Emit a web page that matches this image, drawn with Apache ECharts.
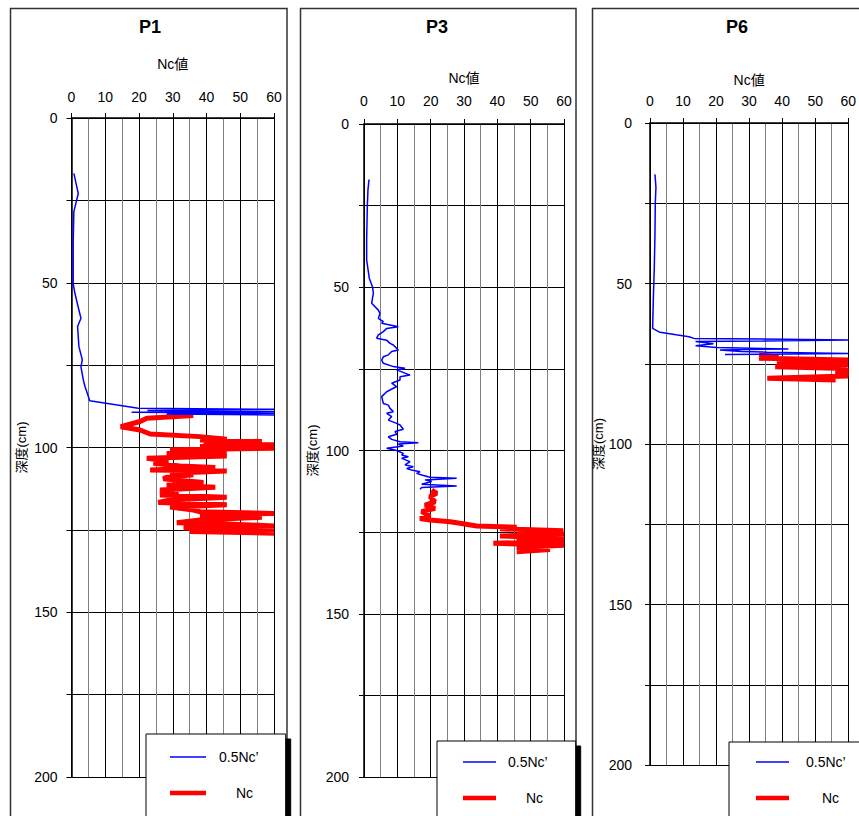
<!DOCTYPE html>
<html>
<head>
<meta charset="utf-8">
<script src="https://cdn.jsdelivr.net/npm/echarts@6/dist/echarts.min.js"></script>
<style>
  html, body { margin: 0; padding: 0; background: #fff; }
  #chart { width: 859px; height: 816px; }
</style>
</head>
<body>
<div id="chart"></div>
<script>
// Cone penetration profiles: Nc value against depth for three test points.
const PANEL_TITLES = ['P1', 'P3', 'P6'];
const X_AXIS_NAME = 'Nc値';
const Y_AXIS_NAME = '深度(cm)';
const SERIES_NAMES = ['0.5Nc’', 'Nc'];

// P1
const P1_HALF_DEPTH = [16.8, 22.9, 28.4, 38.0, 50.2, 53.2, 60.8, 63.3, 69.4, 73.4, 75.5, 79.5, 81.5, 83.6, 85.8,
  88.1, 88.4, 88.8, 89.1, 89.3, 89.6, 89.8, 90.1];
const P1_HALF_NC = [0.7, 2.0, 0.7, 0.5, 0.5, 1.0, 2.8, 1.8, 2.2, 3.2, 2.8, 3.5, 4.0, 4.7, 5.4,
  19.8, 60, 22.5, 60, 17.8, 60, 28.2, 60];
const P1_NC_DEPTH = [90.3, 91.1, 92.1, 93.7, 94.7, 95.9, 96.7, 97.5, 97.7, 98.2, 98.7, 99.2, 99.7, 100.2, 100.7,
  101.2, 101.8, 102.6, 103.3, 104.1, 104.8, 105.6, 106.1, 106.8, 107.1, 107.8, 108.3, 109.0, 109.5, 110.2,
  110.6, 111.4, 112.1, 112.9, 113.7, 114.4, 115.1, 115.9, 116.7, 117.4, 118.1, 119.0, 119.5, 120.0, 120.5,
  121.2, 122.0, 122.8, 123.2, 123.8, 124.4, 125.0, 125.5, 126.0];
const P1_NC = [36.1, 22.3, 20.3, 14.6, 20.3, 23.3, 38.1, 46.0, 38.1, 56.4, 39.1, 60, 38.1, 60, 29.2,
  46.0, 28.2, 46.0, 22.3, 28.7, 24.3, 32.2, 42.6, 23.3, 46.0, 29.2, 36.1, 28.2, 27.2, 34.2,
  39.1, 28.2, 42.6, 26.2, 31.7, 26.2, 46.0, 29.2, 25.7, 46.0, 29.2, 36.1, 38.1, 60, 38.1,
  56.4, 38.1, 31.2, 46.0, 60, 33.2, 60, 35.1, 60];

// P3
const P3_HALF_DEPTH = [17.0, 20.0, 25.0, 30.0, 35.0, 41.7, 47.3, 50.0, 51.9, 54.9, 57.0, 58.0, 59.5, 60.5, 61.0,
  62.1, 62.6, 63.6, 64.6, 65.6, 66.2, 67.2, 67.7, 69.2, 69.7, 70.7, 71.3, 72.3, 73.3, 74.3,
  74.8, 75.3, 76.9, 77.4, 78.4, 79.4, 80.4, 82.0, 83.5, 85.6, 86.1, 87.1, 88.1, 88.6, 89.6,
  90.7, 91.7, 92.2, 93.5, 94.2, 95.0, 95.8, 96.6, 97.3, 97.6, 98.0, 98.6, 99.3, 100.0, 100.9,
  101.4, 101.9, 102.4, 103.4, 104.4, 105.0, 105.5, 106.0, 106.5, 107.0, 107.5, 108.2, 108.5, 109.0, 109.5,
  110.3, 110.9, 111.3, 111.9];
const P3_HALF_NC = [1.5, 1.2, 1.0, 0.9, 0.8, 0.8, 1.6, 2.6, 2.8, 2.3, 4.3, 4.8, 4.3, 5.8, 5.3,
  10.3, 6.8, 5.8, 4.3, 3.8, 6.8, 7.8, 8.8, 10.3, 8.3, 7.3, 5.8, 5.3, 5.8, 8.8,
  12.3, 9.8, 13.8, 10.8, 10.8, 8.3, 9.8, 6.8, 5.3, 5.8, 7.3, 7.8, 8.8, 6.8, 8.3,
  7.3, 9.8, 10.8, 11.8, 9.3, 9.8, 7.3, 8.3, 10.8, 16.3, 10.3, 11.8, 6.8, 9.8, 11.8,
  11.3, 13.3, 11.3, 13.8, 12.3, 14.8, 12.8, 14.3, 16.8, 15.8, 17.3, 19.8, 27.8, 18.3, 20.3,
  17.3, 27.8, 17.3, 16.8];
const P3_NC_DEPTH = [112.1, 113.1, 114.1, 115.7, 116.7, 117.7, 118.7, 120.1, 120.8, 121.3, 121.8, 122.3, 123.1, 123.5, 124.0,
  124.6, 125.2, 125.6, 126.2, 126.7, 127.2, 127.9, 128.4, 129.0, 129.7, 130.3, 131.0];
const P3_NC = [20.3, 21.8, 19.8, 21.3, 18.3, 21.3, 17.3, 19.8, 16.8, 19.8, 25.8, 28.8, 33.8, 45.8, 40.8,
  59.8, 45.8, 60, 40.8, 60, 45.8, 60, 38.8, 60, 45.8, 55.8, 45.8];

// P6
const P6_HALF_DEPTH = [16.0, 20.0, 25.0, 35.0, 45.0, 55.1, 64.0, 65.2, 66.0, 66.6, 67.1, 67.6, 68.1, 68.8, 69.4,
  69.9, 70.4, 70.7, 71.2, 71.4, 71.8, 72.1];
const P6_HALF_NC = [1.5, 1.8, 1.6, 1.5, 1.3, 1.0, 0.8, 3.0, 7.9, 11.8, 13.3, 60, 13.8, 19.2, 13.8,
  20.2, 41.9, 21.2, 27.6, 35.5, 60, 22.7];
const P6_NC_DEPTH = [72.3, 72.8, 73.3, 73.8, 74.4, 75.4, 75.9, 76.4, 77.2, 78.0, 78.8, 79.5, 80.1];
const P6_NC = [33.0, 38.9, 33.0, 60, 38.4, 60, 37.9, 56.2, 60, 56.2, 60, 35.5, 56.2];

const X_MIN = 0, X_MAX = 60, X_STEP = 10;
const Y_MIN = 0, Y_MAX = 200, Y_STEP = 25, Y_LABEL_STEP = 50;

const FONT = '"Liberation Sans", "Noto Sans CJK JP", sans-serif';
const HALF_COLOR = '#0000ff';
const NC_COLOR = '#ff0000';

function zip(values, depths) {
  return values.map((v, i) => [v, depths[i]]);
}

// Flat bar icons for the legend keys (thin for 0.5Nc', thick for Nc)
function barIcon(w, h) {
  return 'path://M0,0H' + w + 'V' + h + 'H0Z';
}

const panels = [
  { half: zip(P1_HALF_NC, P1_HALF_DEPTH), nc: zip(P1_NC, P1_NC_DEPTH),
    grid: { left: 71.5, top: 118, width: 202.5, height: 659 },
    xNameGap: 47, xLabelMargin: 14, yNameGap: 44, yLabelMargin: 14,
    frame: [10.5, 8.5, 276.5], titleX: 150,
    legend: { left: 146, top: 734, pad: [16, 27, 40, 24], icon: 36, textPad: [8, 25] } },
  { half: zip(P3_HALF_NC, P3_HALF_DEPTH), nc: zip(P3_NC, P3_NC_DEPTH),
    grid: { left: 364, top: 124, width: 200, height: 653 },
    xNameGap: 39, xLabelMargin: 16, yNameGap: 45, yLabelMargin: 15,
    frame: [300.5, 8.5, 275.5], titleX: 437,
    legend: { left: 437, top: 741, pad: [14, 28, 40, 26], icon: 33, textPad: [7, 25] } },
  { half: zip(P6_HALF_NC, P6_HALF_DEPTH), nc: zip(P6_NC, P6_NC_DEPTH),
    grid: { left: 650, top: 123, width: 203, height: 642 },
    xNameGap: 36, xLabelMargin: 15, yNameGap: 35, yLabelMargin: 18,
    frame: [592.5, 8.5, 300], titleX: 737,
    legend: { left: 729, top: 742, pad: [13, 28, 40, 27], icon: 33, textPad: [12, 28] } }
];

const grid = [], xAxis = [], yAxis = [], series = [], legend = [], graphic = [];

panels.forEach((p, i) => {
  grid.push(p.grid);

  xAxis.push({
    gridIndex: i, type: 'value', position: 'top',
    min: X_MIN, max: X_MAX, interval: X_STEP,
    name: X_AXIS_NAME, nameLocation: 'middle', nameGap: p.xNameGap,
    nameTextStyle: { fontFamily: FONT, fontSize: 14, color: '#000' },
    axisLine: { show: true, onZero: false, lineStyle: { color: '#000', width: 1.5 } },
    axisTick: { show: true, length: 5, lineStyle: { color: '#000' } },
    axisLabel: { margin: p.xLabelMargin, fontFamily: FONT, fontSize: 14, color: '#000' },
    splitLine: { show: true, lineStyle: { color: '#000', width: 1 } },
    minorTick: { show: false, splitNumber: 2 },
    minorSplitLine: { show: true, lineStyle: { color: '#808080', width: 1 } }
  });

  yAxis.push({
    gridIndex: i, type: 'value', inverse: true,
    min: Y_MIN, max: Y_MAX, interval: Y_STEP,
    name: Y_AXIS_NAME, nameLocation: 'middle', nameRotate: 90, nameGap: p.yNameGap,
    nameTextStyle: { fontFamily: FONT, fontSize: 13, color: '#000' },
    axisLine: { show: true, onZero: false, lineStyle: { color: '#000', width: 1.5 } },
    axisTick: { show: true, length: 5, lineStyle: { color: '#000' } },
    axisLabel: {
      margin: p.yLabelMargin, fontFamily: FONT, fontSize: 14, color: '#000',
      formatter: v => (v % Y_LABEL_STEP === 0 ? String(v) : '')
    },
    splitLine: { show: true, lineStyle: { color: '#000', width: 1 } }
  });

  series.push({
    name: SERIES_NAMES[1], type: 'line', xAxisIndex: i, yAxisIndex: i,
    data: p.nc, symbol: 'none', animation: false,
    lineStyle: { color: NC_COLOR, width: 5 }, itemStyle: { color: NC_COLOR }
  });
  series.push({
    name: SERIES_NAMES[0], type: 'line', xAxisIndex: i, yAxisIndex: i,
    data: p.half, symbol: 'none', animation: false,
    lineStyle: { color: HALF_COLOR, width: 1.5 }, itemStyle: { color: HALF_COLOR }
  });

  const L = p.legend;
  legend.push({
    data: [
      { name: SERIES_NAMES[0], icon: barIcon(L.icon, 1.5), itemStyle: { color: HALF_COLOR } },
      { name: SERIES_NAMES[1], icon: barIcon(L.icon, 4.5), itemStyle: { color: NC_COLOR } }
    ],
    orient: 'vertical',
    left: L.left, top: L.top, width: 200, height: 300, padding: L.pad,
    itemWidth: L.icon, itemHeight: 14, itemGap: 22,
    symbolKeepAspect: true,
    backgroundColor: '#fff', borderColor: '#000', borderWidth: 1,
    shadowColor: '#000', shadowBlur: 0, shadowOffsetX: 5, shadowOffsetY: 5,
    selectedMode: false,
    formatter: name => (name === SERIES_NAMES[0] ? '{a|' + name + '}' : '{b|' + name + '}'),
    textStyle: {
      fontFamily: FONT, fontSize: 14, color: '#000',
      rich: {
        a: { fontFamily: FONT, fontSize: 14, padding: [0, 0, 0, L.textPad[0]] },
        b: { fontFamily: FONT, fontSize: 14, padding: [0, 0, 0, L.textPad[1]] }
      }
    }
  });

  graphic.push({
    type: 'rect', silent: true, z: 0,
    shape: { x: p.frame[0], y: p.frame[1], width: p.frame[2], height: 900 },
    style: { fill: 'none', stroke: '#333', lineWidth: 1.5 }
  });
  graphic.push({
    type: 'text', silent: true, x: p.titleX, y: 27,
    style: {
      text: PANEL_TITLES[i], font: 'bold 18px ' + FONT, fill: '#000',
      align: 'center', verticalAlign: 'middle'
    }
  });
});

const chart = echarts.init(document.getElementById('chart'), null, { renderer: 'svg' });
chart.setOption({
  animation: false,
  backgroundColor: '#fff',
  grid, xAxis, yAxis, series, legend, graphic
});
</script>
</body>
</html>
